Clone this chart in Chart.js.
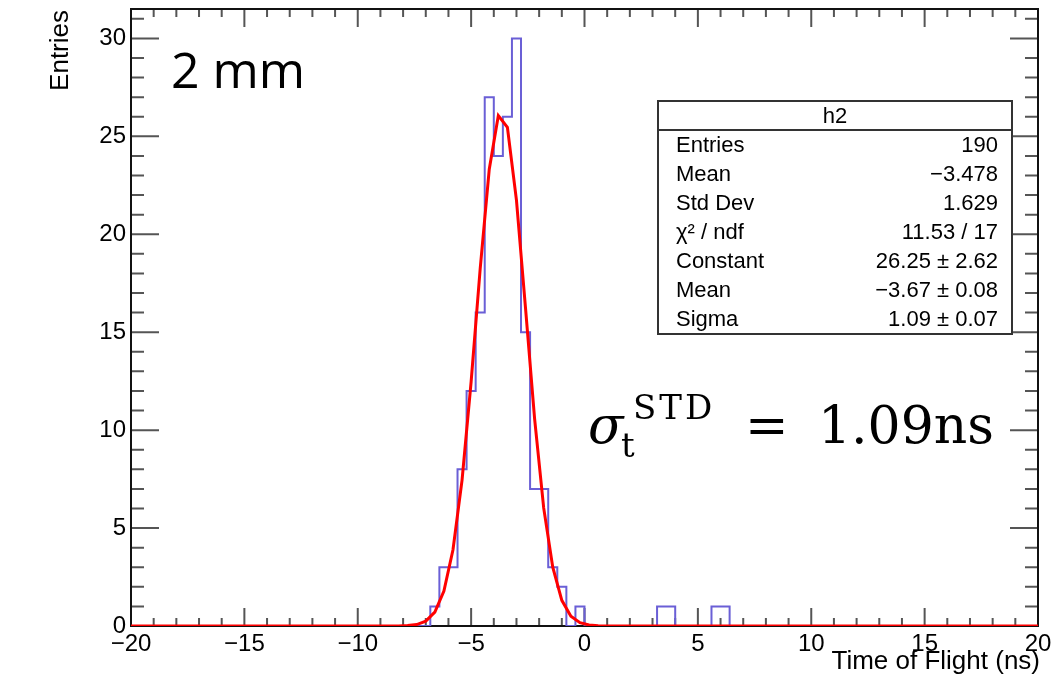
<!DOCTYPE html>
<html>
<head>
<meta charset="utf-8">
<script src="https://cdn.jsdelivr.net/npm/chart.js@4.4.1/dist/chart.umd.min.js"></script>
<style>
  html, body { margin: 0; padding: 0; background: #fff; }
  canvas { display: block; }
</style>
</head>
<body>
<canvas id="tof" width="1056" height="680"></canvas>
<script>
// histogram h2: 100 bins from -20 to 20 ns
const binLow = -20;
const binWidth = 0.4;
const counts = [
  0, 0, 0, 0, 0, 0, 0, 0, 0, 0,
  0, 0, 0, 0, 0, 0, 0, 0, 0, 0,
  0, 0, 0, 0, 0, 0, 0, 0, 0, 0,
  0, 0, 0, 1, 3, 3, 8, 12, 16, 27,
  24, 26, 30, 15, 7, 7, 3, 2, 0, 1,
  0, 0, 0, 0, 0, 0, 0, 0, 1, 1,
  0, 0, 0, 0, 1, 1, 0, 0, 0, 0,
  0, 0, 0, 0, 0, 0, 0, 0, 0, 0,
  0, 0, 0, 0, 0, 0, 0, 0, 0, 0,
  0, 0, 0, 0, 0, 0, 0, 0, 0, 0
];

// gaussian fit curve as drawn
const fitX = [-20, -8.2, -7.8, -7.4, -7.0, -6.6, -6.2, -5.8, -5.4, -5.0, -4.6, -4.2, -3.8,
              -3.4, -3.0, -2.6, -2.2, -1.8, -1.4, -1.0, -0.6, -0.2, 0.2, 0.6, 20];
const fitY = [0, 0.005, 0.02, 0.075, 0.25, 0.71, 1.78, 3.89, 7.45, 12.47, 18.24, 23.32, 26.06,
              25.46, 21.73, 16.21, 10.57, 6.03, 3.0, 1.31, 0.5, 0.17, 0.05, 0.01, 0];

const xTickValues = [-20, -15, -10, -5, 0, 5, 10, 15, 20];
const yTickValues = [0, 5, 10, 15, 20, 25, 30];

const statTitle = 'h2';
const statNames = ['Entries', 'Mean', 'Std Dev', 'χ² / ndf', 'Constant', 'Mean', 'Sigma'];
const statValues = ['190', '−3.478', '1.629', '11.53 / 17', '26.25 ± 2.62', '−3.67 ± 0.08', '1.09 ± 0.07'];

const minus = v => String(v).replace('-', '−');

const histPoints = counts.map((c, i) => ({ x: binLow + i * binWidth, y: c }));
histPoints.push({ x: binLow + counts.length * binWidth, y: 0 });
const fitPoints = fitX.map((x, i) => ({ x: x, y: fitY[i] }));

const rootFrame = {
  id: 'rootFrame',
  beforeDatasetsDraw(chart) {
    const { ctx, chartArea: a, scales: { x, y } } = chart;
    ctx.save();
    ctx.strokeStyle = '#555';
    ctx.lineWidth = 2;
    ctx.beginPath();
    for (let v = -20; v <= 20; v++) {
      const px = x.getPixelForValue(v);
      const len = v % 5 === 0 ? 18 : 8;
      ctx.moveTo(px, a.bottom); ctx.lineTo(px, a.bottom - len);
      ctx.moveTo(px, a.top); ctx.lineTo(px, a.top + len);
    }
    for (let v = 0; v <= 31; v++) {
      const py = y.getPixelForValue(v);
      const len = v % 5 === 0 ? 28 : 13;
      ctx.moveTo(a.left, py); ctx.lineTo(a.left + len, py);
      ctx.moveTo(a.right, py); ctx.lineTo(a.right - len, py);
    }
    ctx.stroke();
    ctx.strokeStyle = '#111';
    ctx.strokeRect(a.left, a.top, a.width, a.height);
    ctx.restore();
  },
  afterDraw(chart) {
    const ctx = chart.ctx;
    ctx.save();

    // stats box
    const bx = 658, by = 101, bw = 354, bh = 233, head = 29;
    ctx.fillStyle = '#fff';
    ctx.fillRect(bx, by, bw, bh);
    ctx.strokeStyle = '#333';
    ctx.lineWidth = 2;
    ctx.strokeRect(bx, by, bw, bh);
    ctx.beginPath();
    ctx.moveTo(bx, by + head); ctx.lineTo(bx + bw, by + head);
    ctx.stroke();
    ctx.fillStyle = '#000';
    ctx.font = '22px "Liberation Sans", Arial, sans-serif';
    ctx.textBaseline = 'middle';
    ctx.textAlign = 'center';
    ctx.fillText(statTitle, bx + bw / 2, by + head / 2 + 1);
    const rowH = (bh - head) / statNames.length;
    statNames.forEach((n, i) => {
      const cy = by + head + rowH * (i + 0.5) + 1;
      ctx.textAlign = 'left';
      ctx.fillText(n, 676, cy);
      ctx.textAlign = 'right';
      ctx.fillText(statValues[i], 998, cy);
    });

    // axis titles
    ctx.font = '26px "Liberation Sans", Arial, sans-serif';
    ctx.textBaseline = 'alphabetic';
    ctx.textAlign = 'right';
    ctx.fillText('Time of Flight (ns)', 1040, 669);
    ctx.save();
    ctx.translate(68, 10);
    ctx.rotate(-Math.PI / 2);
    ctx.textAlign = 'right';
    ctx.fillText('Entries', 0, 0);
    ctx.restore();

    // annotations
    ctx.textAlign = 'left';
    ctx.font = '50px "Open Sans", sans-serif';
    ctx.fillText('2 mm', 171, 88);

    ctx.font = 'italic 52px "DejaVu Serif", serif';
    ctx.fillText('σ', 588, 443);
    ctx.font = '34px "DejaVu Serif", serif';
    ctx.fillText('t', 621, 457);
    ctx.letterSpacing = '3px';
    ctx.fillText('STD', 633, 419);
    ctx.letterSpacing = '0px';
    ctx.font = '52px "DejaVu Serif", serif';
    ctx.fillText('=', 745, 443);
    ctx.fillText('1.09ns', 818, 443);

    ctx.restore();
  }
};

new Chart(document.getElementById('tof').getContext('2d'), {
  type: 'line',
  data: {
    datasets: [{
      label: 'fit',
      data: fitPoints,
      borderColor: '#ff0000',
      borderWidth: 3,
      pointRadius: 0,
      tension: 0,
      order: 0
    }, {
      label: 'h2',
      data: histPoints,
      borderColor: '#6a5fd6',
      borderWidth: 2,
      pointRadius: 0,
      stepped: 'before',
      order: 1
    }]
  },
  options: {
    responsive: false,
    animation: false,
    layout: { padding: { left: 0, right: 18, top: 9, bottom: 0 } },
    scales: {
      x: {
        type: 'linear',
        min: -20,
        max: 20,
        afterBuildTicks: s => { s.ticks = xTickValues.map(v => ({ value: v })); },
        afterFit: s => { s.height = 54; s.paddingLeft = 0; s.paddingRight = 0; },
        ticks: {
          autoSkip: false,
          maxRotation: 0,
          padding: 4,
          color: '#000',
          font: { family: '"Liberation Sans", Arial, sans-serif', size: 24 },
          callback: v => minus(v)
        },
        grid: { display: false, drawTicks: false },
        border: { display: false }
      },
      y: {
        min: 0,
        max: 31.5,
        afterBuildTicks: s => { s.ticks = yTickValues.map(v => ({ value: v })); },
        afterFit: s => { s.width = 131; s.paddingTop = 0; s.paddingBottom = 0; },
        ticks: {
          padding: 5,
          color: '#000',
          font: { family: '"Liberation Sans", Arial, sans-serif', size: 24 },
          callback: v => minus(v)
        },
        grid: { display: false, drawTicks: false },
        border: { display: false }
      }
    },
    plugins: {
      legend: { display: false },
      tooltip: { enabled: false }
    }
  },
  plugins: [rootFrame]
});
</script>
</body>
</html>
